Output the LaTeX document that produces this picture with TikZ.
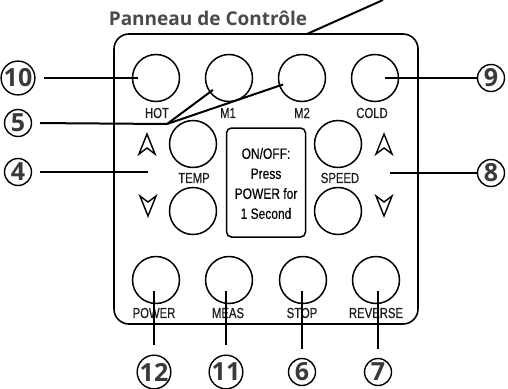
\documentclass[tikz,border=0pt]{standalone}
\usepackage{fontspec}
\setmainfont{Liberation Sans}
\newfontfamily\labf[FakeStretch=0.78,FakeBold=0.6]{Liberation Sans}
\newfontfamily\boxf[FakeStretch=0.8,FakeBold=0.4]{Liberation Sans}
\newfontfamily\numf{Open Sans}
\definecolor{numgray}{HTML}{3A3A3A}
\definecolor{titlegray}{HTML}{4A4A4A}
\definecolor{labblack}{HTML}{1E1E1E}
\begin{document}
\begin{tikzpicture}[x=1pt,y=-1pt,
  btn/.style={circle, draw, line width=1.5pt, minimum size=47pt, inner sep=0pt},
  num/.style={circle, draw, line width=1.4pt, minimum size=27pt, inner sep=0pt,
              font=\numf\bfseries\fontsize{25}{25}\selectfont, text=numgray},
  lab/.style={font=\labf\fontsize{14.5}{15}\selectfont, text=labblack, inner sep=0pt},
  boxtext/.style={font=\boxf\fontsize{15}{20}\selectfont, align=center, inner sep=0pt},
  lead/.style={line width=2pt},
  chevron/.pic={\draw[line width=1.4pt, line join=miter] (0,-10) -- (-8,10) -- (0,4) -- (8,10) -- cycle;}
]
\useasboundingbox (0,0) rectangle (508,388);

% title and panel
\node[font=\numf\bfseries\fontsize{19}{19}\selectfont, text=titlegray, inner sep=0pt] (title) at (208,18) {Panneau de Contrôle};
\node[draw, line width=1.6pt, rounded corners=15pt, minimum width=304pt, minimum height=290pt, inner sep=0pt] (panel) at (266,179) {};
\coordinate (tend) at (383,0);
\draw[lead] (307,34) coordinate (tstart) -- (tend);

% top row
\node[btn] (hot)  at (156,78) {};
\node[btn] (m1)   at (229,78) {};
\node[btn] (m2)   at (302,78) {};
\node[btn] (cold) at (375,78) {};
\node[lab] (lhot)  at (157,113) {HOT};
\node[lab] (lm1)   at (228,113) {M1};
\node[lab] (lm2)   at (302,113) {M2};
\node[lab] (lcold) at (372,113) {COLD};

% middle
\node[btn] (tup) at (193,144) {};
\node[btn] (tdn) at (193,211) {};
\node[btn] (sup) at (338,144) {};
\node[btn] (sdn) at (338,211) {};
\node[lab] (ltemp)  at (194,178) {TEMP};
\node[lab] (lspeed) at (340,178) {SPEED};
\pic at (147,144) {chevron};
\pic[yscale=-1] at (148,206) {chevron};
\pic at (384,144) {chevron};
\pic[yscale=-1] at (384,206) {chevron};
\node[draw, line width=1.5pt, rounded corners=5pt, minimum width=79pt, minimum height=109pt, inner sep=0pt] (onoff) at (266,182.5) {};
\node[boxtext] (onofftext) at (266,183.5) {ON/OFF:\\Press\\POWER for\\1 Second};

% bottom row
\node[btn] (pw) at (156,280) {};
\node[btn] (ms) at (229,280) {};
\node[btn] (st) at (303,280) {};
\node[btn] (rv) at (376,280) {};
\node[lab] (lpw) at (154,313) {POWER};
\node[lab] (lms) at (228,313) {MEAS};
\node[lab] (lst) at (302,313) {STOP};
\node[lab] (lrv) at (376,313) {REVERSE};

% number callouts
\node[num] (n10) at (18,78) {10};
\node[num] (n5)  at (18,123) {5};
\node[num] (n4)  at (18,172) {4};
\node[num] (n9)  at (491,78) {9};
\node[num] (n8)  at (491,173) {8};
\node[num] (n12) at (154,372) {12};
\node[num] (n11) at (226,372) {11};
\node[num] (n6)  at (302,372) {6};
\node[num] (n7)  at (378,372) {7};

% leaders
\draw[lead, shorten <=8pt, shorten >=18pt] (n10.east) -- (hot.center);
\draw[lead, shorten <=10pt] (cold.center) -- (n9.west);
\coordinate (j5) at (167,124);
\draw[lead, shorten <=8pt] (n5.east) -- (j5);
\draw[lead, shorten >=20pt] (j5) -- (m1.center);
\draw[lead, shorten >=20pt] (j5) -- (m2.center);
\coordinate (e4) at (148,172);
\draw[lead, shorten <=8pt] (n4.east) -- (e4);
\coordinate (e8) at (390,173);
\draw[lead] (e8) -- (n8.west);
\draw[lead, shorten <=11pt, shorten >=9pt] (n12 |- pw.center) -- (n12.north);
\draw[lead, shorten <=11pt, shorten >=9pt] (n11 |- ms.center) -- (n11.north);
\draw[lead, shorten <=11pt, shorten >=9pt] (n6 |- st.center) -- (n6.north);
\draw[lead, shorten <=11pt, shorten >=9pt] (n7 |- rv.center) -- (n7.north);
\end{tikzpicture}
\end{document}
